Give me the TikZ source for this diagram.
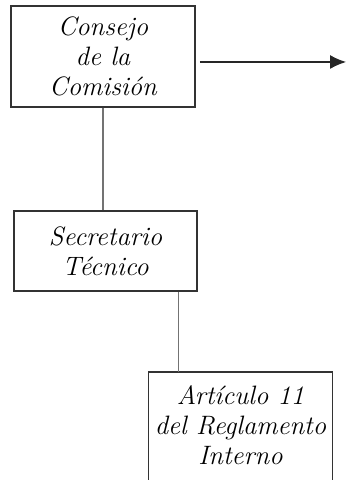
\documentclass[tikz,border=0pt]{standalone}
\usepackage{tikz}
\usetikzlibrary{arrows.meta}
\tikzset{texto/.style={align=center, inner sep=0pt,
    font=\fontsize{13.3}{15}\selectfont\itshape},
  borde/.style={draw=black!80, line width=0.75pt},
  caja/.style={texto, borde},
  linea/.style={draw=black!55, line width=0.8pt}}

\begin{document}
\begin{tikzpicture}[x=0.5pt,y=-0.5pt]
\useasboundingbox (0,0) rectangle (347,480);
\begin{scope}
	\clip (0,0) rectangle (347,480);
	\node[caja, minimum width=92pt, minimum height=50.5pt] (consejo) at (103,56.5)
		{Consejo\\de la\\Comisi\'on};
	\node[caja, minimum width=91.5pt, minimum height=40pt] (secretario) at (105.5,251)
		{Secretario\\T\'ecnico};
	\node[texto, minimum width=91.5pt, minimum height=53pt, anchor=north] (articulo) at (240.5,372)
		{Art\'iculo 11\\del Reglamento\\Interno};
	\draw[borde] ([yshift=-10pt]articulo.south west) |- (articulo.north east)
		-- ([yshift=-10pt]articulo.south east);
\end{scope}
\coordinate (salida) at (346,62);
\draw[style=linea] (consejo.south) -- (consejo.south |- secretario.north);
\draw[style=linea] ([xshift=15pt]articulo.north west) -- ([xshift=15pt]articulo.north west |- secretario.south);
\draw[-{Latex[length=8pt,width=7pt]}, draw=black!85, line width=0.6pt] ([xshift=2pt]consejo.east |- salida) -- (salida);
\end{tikzpicture}
\end{document}
